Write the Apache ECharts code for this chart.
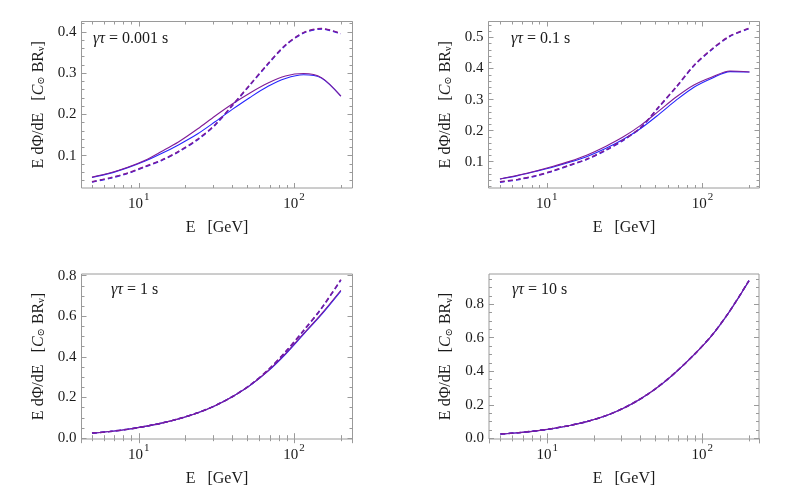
<!DOCTYPE html>
<html>
<head>
<meta charset="utf-8">
<script src="https://cdn.jsdelivr.net/npm/echarts@6/dist/echarts.min.js"></script>
<style>
  html, body { margin: 0; background: #fff; }
  #chart { width: 789px; height: 488px; }
</style>
</head>
<body>
<div id="chart"></div>
<script>
// energies (GeV) where the curves were read off, roughly even in log E
const energies = [5, 6.5, 8.5, 11, 14, 18, 24, 31, 40, 52, 68, 88, 115, 150, 200];

// γτ = 0.001 s
const p1BlueSolid   = [0.047, 0.057, 0.071, 0.087, 0.105, 0.126, 0.153, 0.182, 0.212, 0.241, 0.268, 0.287, 0.296, 0.288, 0.244];
const p1PurpleSolid = [0.048, 0.058, 0.072, 0.089, 0.110, 0.133, 0.165, 0.196, 0.225, 0.252, 0.276, 0.293, 0.299, 0.289, 0.244];
const p1BlueDash    = [0.036, 0.045, 0.057, 0.073, 0.088, 0.109, 0.139, 0.174, 0.221, 0.271, 0.322, 0.367, 0.397, 0.407, 0.395];
const p1PurpleDash  = [0.037, 0.046, 0.058, 0.074, 0.089, 0.110, 0.140, 0.175, 0.222, 0.272, 0.323, 0.368, 0.398, 0.408, 0.396];

// γτ = 0.1 s
const p2BlueSolid   = [0.044, 0.055, 0.069, 0.083, 0.098, 0.116, 0.143, 0.172, 0.207, 0.251, 0.299, 0.340, 0.369, 0.390, 0.389];
const p2PurpleSolid = [0.044, 0.056, 0.070, 0.085, 0.101, 0.121, 0.150, 0.180, 0.217, 0.262, 0.309, 0.347, 0.373, 0.392, 0.389];
const p2BlueDash    = [0.034, 0.042, 0.054, 0.070, 0.088, 0.107, 0.137, 0.169, 0.209, 0.274, 0.341, 0.409, 0.462, 0.504, 0.529];
const p2PurpleDash  = [0.035, 0.043, 0.055, 0.071, 0.089, 0.108, 0.138, 0.170, 0.210, 0.275, 0.342, 0.410, 0.463, 0.505, 0.530];

// γτ = 1 s
const p3BlueSolid   = [0.025, 0.033, 0.044, 0.058, 0.074, 0.094, 0.125, 0.160, 0.204, 0.259, 0.330, 0.413, 0.511, 0.608, 0.724];
const p3PurpleSolid = [0.025, 0.033, 0.044, 0.058, 0.074, 0.095, 0.125, 0.160, 0.204, 0.260, 0.332, 0.416, 0.515, 0.612, 0.728];
const p3BlueDash    = [0.025, 0.033, 0.044, 0.058, 0.074, 0.095, 0.125, 0.160, 0.204, 0.261, 0.335, 0.424, 0.528, 0.638, 0.778];
const p3PurpleDash  = [0.025, 0.033, 0.044, 0.058, 0.074, 0.095, 0.125, 0.160, 0.204, 0.261, 0.336, 0.425, 0.530, 0.640, 0.780];

// γτ = 10 s
const p4BlueSolid   = [0.026, 0.034, 0.045, 0.059, 0.077, 0.100, 0.135, 0.179, 0.235, 0.307, 0.397, 0.496, 0.612, 0.757, 0.939];
const p4PurpleSolid = [0.026, 0.034, 0.045, 0.060, 0.077, 0.100, 0.136, 0.180, 0.236, 0.308, 0.398, 0.497, 0.613, 0.758, 0.940];
const p4BlueDash    = [0.026, 0.034, 0.045, 0.060, 0.077, 0.100, 0.136, 0.180, 0.236, 0.308, 0.398, 0.497, 0.613, 0.758, 0.941];
const p4PurpleDash  = [0.026, 0.034, 0.045, 0.060, 0.077, 0.100, 0.136, 0.180, 0.236, 0.308, 0.398, 0.497, 0.613, 0.758, 0.941];

const panelTaus = ['0.001', '0.1', '1', '10'];

// tick labels
const yMajorTicks = [
  [0.1, 0.2, 0.3, 0.4],
  [0.1, 0.2, 0.3, 0.4, 0.5],
  [0.0, 0.2, 0.4, 0.6, 0.8],
  [0.0, 0.2, 0.4, 0.6, 0.8]
];
const yMinorSteps = [0.02, 0.02, 0.05, 0.05];
const xMinorTicks = [5, 6, 7, 8, 9, 20, 30, 40, 50, 60, 70, 80, 90, 200];

const panelSeries = [
  [p1BlueSolid, p1PurpleSolid, p1BlueDash, p1PurpleDash],
  [p2BlueSolid, p2PurpleSolid, p2BlueDash, p2PurpleDash],
  [p3BlueSolid, p3PurpleSolid, p3BlueDash, p3PurpleDash],
  [p4BlueSolid, p4PurpleSolid, p4BlueDash, p4PurpleDash]
];

// layout
const FONT = '"Liberation Serif", "DejaVu Serif", serif';
const FRAME = '#9a9a9a';
const TEXT = '#1a1a1a';
const BLUE = '#2424ff';
const PURPLE = '#801c96';
const grids = [
  { left: 81.5, top: 21.5, width: 271, height: 166.5 },
  { left: 488.5, top: 21.5, width: 271, height: 166.5 },
  { left: 81.5, top: 274, width: 271, height: 165.5 },
  { left: 489, top: 274, width: 270, height: 165.5 }
];
const xRanges = [[4.28, 237.7], [4.22, 232], [4.28, 237.7], [4.22, 232]];
const yRanges = [[0.0216, 0.425], [0.0152, 0.5516], [-0.004, 0.808], [-0.0036, 0.98]];
const titlePos = [[93, 31], [511, 31], [111, 282], [512, 282]];

function minorValues(range, step, majors) {
  const out = [];
  const start = Math.ceil(range[0] / step) * step;
  for (let v = start; v <= range[1] + 1e-9; v += step) {
    const r = Math.round(v * 1000) / 1000;
    if (!majors.some(m => Math.abs(m - r) < 1e-6)) out.push(r);
  }
  return out;
}

const tickLine = { color: FRAME, width: 1 };
const option = { animation: false, grid: [], xAxis: [], yAxis: [], series: [], title: [] };

grids.forEach((g, i) => {
  option.grid.push({
    left: g.left, top: g.top, width: g.width, height: g.height,
    show: true, borderColor: FRAME, borderWidth: 1, backgroundColor: 'transparent'
  });

  const [xmin, xmax] = xRanges[i];
  const [ymin, ymax] = yRanges[i];
  const xMinorLog = xMinorTicks.map(Math.log10);
  const yMinor = minorValues(yRanges[i], yMinorSteps[i], yMajorTicks[i]);

  // x axes: bottom data axis (log), bottom minor ticks, top major, top minor
  option.xAxis.push({
    type: 'log', logBase: 10, gridIndex: i, position: 'bottom', min: xmin, max: xmax,
    axisLine: { show: false }, splitLine: { show: false },
    axisTick: { show: true, inside: true, length: 5, lineStyle: tickLine },
    axisLabel: {
      showMinLabel: false, showMaxLabel: false, margin: 4,
      color: TEXT, fontFamily: FONT, fontSize: 15,
      formatter: v => '{b|10}{s|' + Math.round(Math.log10(v)) + '}',
      rich: {
        b: { fontFamily: FONT, fontSize: 15, color: TEXT, lineHeight: 20, verticalAlign: 'bottom' },
        s: { fontFamily: FONT, fontSize: 11, color: TEXT, lineHeight: 20, verticalAlign: 'top', padding: [0, 0, 0, 1] }
      }
    },
    name: 'E   [GeV]', nameLocation: 'middle', nameGap: 32,
    nameTextStyle: { color: TEXT, fontFamily: FONT, fontSize: 16 }
  });
  option.xAxis.push({
    type: 'value', gridIndex: i, position: 'bottom', min: Math.log10(xmin), max: Math.log10(xmax),
    axisLine: { show: false }, splitLine: { show: false }, axisLabel: { show: false },
    axisTick: { show: true, inside: true, length: 3, lineStyle: tickLine, customValues: xMinorLog }
  });
  option.xAxis.push({
    type: 'log', logBase: 10, gridIndex: i, position: 'top', min: xmin, max: xmax,
    axisLine: { show: false }, splitLine: { show: false }, axisLabel: { show: false },
    axisTick: { show: true, inside: true, length: 5, lineStyle: tickLine }
  });
  option.xAxis.push({
    type: 'value', gridIndex: i, position: 'top', min: Math.log10(xmin), max: Math.log10(xmax),
    axisLine: { show: false }, splitLine: { show: false }, axisLabel: { show: false },
    axisTick: { show: true, inside: true, length: 3, lineStyle: tickLine, customValues: xMinorLog }
  });

  // y axes: left major (labels + name), left minor, right major, right minor
  option.yAxis.push({
    type: 'value', gridIndex: i, position: 'left', min: ymin, max: ymax,
    axisLine: { show: false }, splitLine: { show: false },
    axisTick: { show: true, inside: true, length: 5, lineStyle: tickLine, customValues: yMajorTicks[i] },
    axisLabel: {
      customValues: yMajorTicks[i], margin: 5,
      color: TEXT, fontFamily: FONT, fontSize: 15,
      formatter: v => Number(v).toFixed(1)
    },
    name: 'E dΦ/dE   [{c|C}{sub|⊙} BR{sub|ν}]',
    nameLocation: 'middle', nameRotate: 90, nameGap: 35,
    nameTextStyle: {
      color: TEXT, fontFamily: FONT, fontSize: 16,
      rich: {
        c: { fontFamily: FONT, fontSize: 16, fontStyle: 'italic', color: TEXT },
        sub: { fontFamily: FONT, fontSize: 10, color: TEXT, verticalAlign: 'bottom', padding: [6, 0, 0, 0] }
      }
    }
  });
  option.yAxis.push({
    type: 'value', gridIndex: i, position: 'left', min: ymin, max: ymax,
    axisLine: { show: false }, splitLine: { show: false }, axisLabel: { show: false },
    axisTick: { show: true, inside: true, length: 3, lineStyle: tickLine, customValues: yMinor }
  });
  option.yAxis.push({
    type: 'value', gridIndex: i, position: 'right', min: ymin, max: ymax,
    axisLine: { show: false }, splitLine: { show: false }, axisLabel: { show: false },
    axisTick: { show: true, inside: true, length: 5, lineStyle: tickLine, customValues: yMajorTicks[i] }
  });
  option.yAxis.push({
    type: 'value', gridIndex: i, position: 'right', min: ymin, max: ymax,
    axisLine: { show: false }, splitLine: { show: false }, axisLabel: { show: false },
    axisTick: { show: true, inside: true, length: 3, lineStyle: tickLine, customValues: yMinor }
  });

  const styles = [
    { color: BLUE, width: 1.1, type: 'solid' },
    { color: PURPLE, width: 1.1, type: 'solid' },
    { color: BLUE, width: 1.5, type: [5, 3] },
    { color: PURPLE, width: 1.5, type: [5, 3] }
  ];
  panelSeries[i].forEach((vals, k) => {
    option.series.push({
      type: 'line', xAxisIndex: i * 4, yAxisIndex: i * 4,
      data: energies.map((e, j) => [e, vals[j]]),
      smooth: 0.3, showSymbol: false, symbol: 'none',
      lineStyle: styles[k], itemStyle: { color: styles[k].color },
      z: 2 + k
    });
  });

  option.title.push({
    left: titlePos[i][0], top: titlePos[i][1], padding: 0,
    text: '{g|γτ} = ' + panelTaus[i] + ' s',
    textStyle: {
      color: TEXT, fontFamily: FONT, fontSize: 16, fontWeight: 'normal',
      rich: { g: { fontFamily: FONT, fontSize: 16, fontStyle: 'italic', color: TEXT } }
    }
  });
});

const chart = echarts.init(document.getElementById('chart'), null, { renderer: 'canvas' });
chart.setOption(option);
</script>
</body>
</html>
